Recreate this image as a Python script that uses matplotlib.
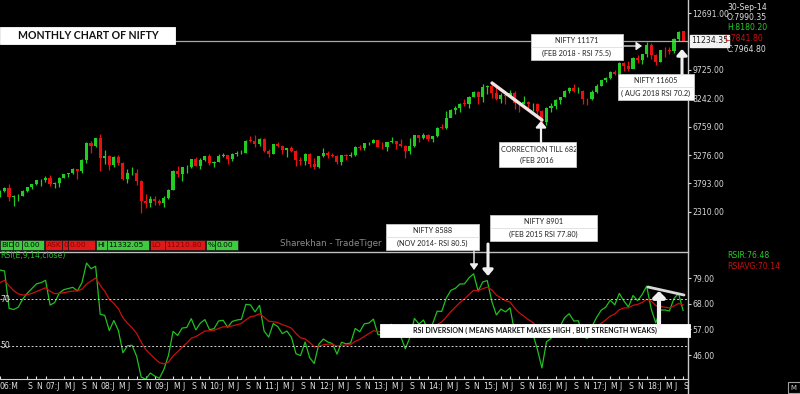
import numpy as np
import matplotlib
matplotlib.use("Agg")
import matplotlib.pyplot as plt
from matplotlib.patches import Rectangle, FancyArrowPatch
from matplotlib.lines import Line2D

# monthly OHLC Mar 2006 .. Sep 2018
opens = [3074,3403,3558,3071,3128,3143,3413,3588,3744,3955,
 3966,4082,3745,3822,4087,4296,4318,4528,4464,5021,5900,5762,
 6139,5137,5224,4735,5165,4870,4040,4333,4360,3921,2885,2755,
 2959,2874,2763,3021,3474,4449,4291,4636,4662,5084,4712,5033,
 5201,4882,4922,5249,5278,5087,5313,5368,5402,6030,6018,5863,
 6135,5506,5333,5834,5749,5560,5647,5482,5001,4943,5327,4832,
 4624,5199,5385,5296,5248,4924,5279,5229,5259,5703,5620,5880,
 5905,6035,5693,5683,5930,5986,5842,5742,5471,5735,6299,6176,
 6304,6090,6277,6704,6696,7230,7611,7721,7990,7965,8322,8588,
 8283,8809,8902,8491,8182,8434,8369,8533,7971,7949,8066,7935,
 7946,7564,6987,7738,7850,8160,8288,8639,8786,8611,8626,8224,
 8186,8561,8880,9174,9304,9621,9521,10077,9918,9789,10335,10227,
 10531,11028,10493,10114,10739,10736,10714,11357,11751]
highs = [3433,3598,3774,3203,3219,3433,3603,3782,3968,4015,
 4167,4245,3875,4103,4306,4335,4620,4545,5055,5977,6011,6185,
 6357,5545,5272,5229,5298,4908,4539,4649,4558,3950,3240,3147,
 3147,2964,3123,3517,4509,4693,4669,4743,5087,5182,5138,5221,
 5311,4952,5329,5399,5279,5366,5478,5549,6073,6284,6338,6147,
 6181,5600,5872,5944,5775,5657,5740,5551,5170,5400,5399,5099,
 5217,5630,5499,5378,5279,5286,5348,5449,5735,5815,5885,5965,
 6111,6053,5971,5962,6229,6011,6093,5808,6142,6309,6343,6415,
 6358,6283,6730,6869,7563,7700,7841,7968,8180,8331,8617,8627,
 8996,8941,9119,8844,8490,8468,8655,8622,8055,8337,8116,7979,
 7972,7600,7777,7992,8213,8309,8675,8819,8968,8806,8669,8274,
 8672,8982,9218,9367,9650,9709,10115,10138,10179,10385,10490,10552,
 11172,11118,10526,10760,10930,10893,11366,11760,11752]
lows = [3060,3325,2896,2595,2878,3118,3323,3505,3696,3657,
 3856,3674,3554,3617,4054,4105,4296,4002,4355,4844,5394,5717,
 4448,4804,4468,4628,4777,3996,3791,4236,3715,2253,2502,2570,
 2661,2677,2539,2965,3468,4143,3919,4354,4576,4687,4538,4943,
 4766,4675,4935,5160,4786,4962,5225,5349,5403,5937,5690,5721,
 5416,5177,5348,5693,5328,5195,5453,4720,4758,4728,4639,4531,
 4588,5159,5135,5154,4789,4770,5033,5164,5215,5549,5548,5823,
 5888,5671,5604,5477,5910,5566,5675,5119,5318,5700,5972,6129,
 6027,5933,6212,6650,6638,7239,7423,7540,7842,7723,8290,7961,
 8065,8470,8269,8145,7998,7940,8316,7667,7540,7930,7714,7552,
 7241,6826,6826,7517,7678,7928,8288,8518,8555,8506,7916,7893,
 8133,8537,8860,9075,9270,9448,9543,9686,9688,9831,10095,10033,
 10405,10277,9952,10111,10418,10551,10605,11235,11211]
closes = [3403,3558,3071,3128,3143,3413,3588,3744,3955,3966,
 4082,3745,3822,4087,4296,4318,4528,4464,5021,5900,5762,6139,
 5137,5224,4735,5165,4870,4040,4333,4360,3921,2885,2755,2959,
 2874,2763,3021,3474,4449,4291,4636,4662,5084,4712,5033,5201,
 4882,4922,5249,5278,5087,5313,5368,5402,6030,6018,5863,6135,
 5506,5333,5834,5749,5560,5647,5482,5001,4943,5327,4832,4624,
 5199,5385,5296,5248,4924,5279,5229,5259,5703,5620,5880,5905,
 6035,5693,5683,5930,5986,5842,5742,5471,5735,6299,6176,6304,
 6090,6277,6704,6696,7230,7611,7721,7954,7965,8322,8588,8283,
 8809,8902,8491,8182,8434,8369,8533,7971,7949,8066,7935,7946,
 7564,6987,7738,7850,8160,8288,8639,8786,8611,8626,8224,8186,
 8561,8880,9174,9304,9621,9521,10077,9918,9789,10335,10227,10531,
 11028,10493,10114,10739,10736,10714,11357,11681,11234]

# RSI(14) per month, Mar 2006 .. Sep 2018
rsi = [82.4,82.0,66.0,65.5,66.5,70.0,72.5,74.5,76.5,77.0,
 78.0,67.4,68.5,72.5,74.0,74.5,75.0,73.5,77.0,85.4,83.0,84.0,
 63.5,63.0,56.5,60.8,56.5,47.0,50.0,50.2,45.5,36.6,35.7,38.3,
 37.0,36.1,39.9,45.9,56.2,54.4,57.6,57.8,61.6,56.8,59.7,61.2,
 56.9,57.3,60.6,60.9,57.9,60.4,61.0,61.3,67.7,67.5,64.5,67.3,
 56.3,53.7,59.5,58.2,55.2,56.3,53.6,46.6,45.8,51.6,44.9,42.4,
 50.6,52.9,51.6,50.9,46.4,51.5,50.8,51.2,57.4,56.0,59.4,59.7,
 61.4,54.8,54.6,58.4,59.2,56.1,54.0,48.7,53.5,61.7,59.3,61.0,
 56.6,59.4,64.8,64.7,70.4,73.7,74.6,76.4,76.5,79.1,80.8,73.4,
 77.3,77.9,69.0,63.2,65.7,64.5,66.2,56.1,55.8,57.3,55.0,55.2,
 48.5,40.5,51.7,53.1,56.8,58.3,62.1,63.7,60.6,60.7,53.8,53.2,
 58.3,62.1,65.2,66.5,69.5,67.5,72.4,69.2,66.6,71.5,69.3,71.9,
 75.5,65.7,59.8,65.3,65.3,64.9,70.2,72.4,65.1]

# RSI average (signal line) per month, Mar 2006 .. Sep 2018
rsi_avg = [77.0,78.0,75.6,73.6,72.2,71.7,71.9,72.4,73.2,74.0,
 74.8,73.3,72.3,72.4,72.7,73.1,73.4,73.5,74.2,76.4,
 77.7,79.0,75.9,73.3,69.9,68.1,65.8,62.0,59.6,57.7,
 55.3,51.6,48.4,46.4,44.5,42.8,42.2,43.0,45.6,47.4,
 49.4,51.1,53.2,53.9,55.1,56.3,56.4,56.6,57.4,58.1,
 58.1,58.5,59.0,59.5,61.1,62.4,62.8,63.7,62.2,60.5,
 60.3,59.9,59.0,58.4,57.5,55.3,53.4,53.0,51.4,49.6,
 49.8,50.4,50.7,50.7,49.8,50.2,50.3,50.5,51.9,52.7,
 54.0,55.2,56.4,56.1,55.8,56.3,56.9,56.7,56.2,54.7,
 54.5,55.9,56.6,57.5,57.3,57.7,59.1,60.2,62.3,64.6,
 66.6,68.5,70.1,71.9,73.7,73.6,74.4,75.1,73.9,71.7,
 70.5,69.3,68.7,66.2,64.1,62.7,61.2,60.0,57.7,54.3,
 53.7,53.6,54.3,55.1,56.5,57.9,58.5,58.9,57.9,56.9,
 57.2,58.2,59.6,61.0,62.7,63.6,65.4,66.2,66.2,67.3,
 67.7,68.5,69.9,69.1,67.2,66.8,66.5,66.2,67.0,68.1,67.5]

price_ticks = [2310, 3793, 5276, 6759, 8242, 9725, 12691]
rsi_ticks = [46, 57, 68, 79]
month_letters = ['J','F','M','A','M','J','J','A','S','O','N','D']

W, H = 800, 394
fig = plt.figure(figsize=(8, 3.94), dpi=100, facecolor='black')
def P(x, y):
    return (x / W, 1 - y / H)

GREEN = '#22cc22'
RED = '#e81010'
n = len(closes)
x = np.arange(n) - 2          # 0 = May 2006
XL = (-1.976, 149.08)

# ---- price pane
ax = fig.add_axes([0, 142/H, 688/W, 252/H], facecolor='black')
for i in range(n):
    col = GREEN if closes[i] >= opens[i] else RED
    ax.vlines(x[i], lows[i], highs[i], color=col, lw=0.9)
    ax.bar(x[i], max(abs(closes[i]-opens[i]), 25), bottom=min(opens[i], closes[i]),
           width=0.68, color=col, lw=0)
ax.set_xlim(*XL); ax.set_ylim(211, 13370)
for s in ax.spines.values():
    s.set_visible(False)
ax.set_xticks([])
ax.yaxis.tick_right()
ax.set_yticks(price_ticks)
ax.set_yticklabels([f'{v:.2f}' for v in price_ticks])
ax.tick_params(axis='y', colors='#d8d8d8', labelsize=5.6, length=2.5, width=0.8, pad=0.8)
ax.axhline(11234.35, color='#a8a8a8', lw=0.9)
ax.text(1.004, 11234.35, '11234.35', transform=ax.get_yaxis_transform(), va='center', ha='left',
        fontsize=5.6, color='#202020',
        bbox=dict(boxstyle='square,pad=0.15', fc='#f2f2f2', ec='#f2f2f2'))

# ---- RSI pane
ax2 = fig.add_axes([0, 15/H, 688/W, 127/H], facecolor='black')
ax2.plot(x, rsi, color='#20c020', lw=0.9)
ax2.plot(x, rsi_avg, color='#c81010', lw=0.9)
ax2.axhline(70, color='#d0d0d0', lw=0.7, ls=(0, (2, 2)))
ax2.axhline(50, color='#d0d0d0', lw=0.7, ls=(0, (2, 2)))
ax2.set_xlim(*XL); ax2.set_ylim(35.77, 90.13)
for k, s in ax2.spines.items():
    s.set_visible(k == 'bottom')
ax2.spines['bottom'].set_color('#d0d0d0')
ax2.yaxis.tick_right()
ax2.set_yticks(rsi_ticks)
ax2.set_yticklabels([f'{v:.2f}' for v in rsi_ticks])
ax2.tick_params(axis='y', colors='#d8d8d8', labelsize=5.6, length=2.5, width=0.8, pad=0.8)
pos, labs = [-2], ['06:M']
for i in range(n):
    m = (2 + i) % 12
    yr = 2006 + (2 + i) // 12
    if i < 5:
        continue
    if m == 0:
        pos.append(x[i]); labs.append(f'{yr % 100:02d}:J')
    elif m in (4, 6, 8, 10):
        pos.append(x[i]); labs.append(month_letters[m])
ax2.set_xticks(pos)
ax2.set_xticklabels(labs, ha='left')
ax2.tick_params(axis='x', colors='#e0e0e0', labelsize=5.6, direction='in', length=2, width=0.8, pad=2.5)
ax2.text(0.001, 70, '70', transform=ax2.get_yaxis_transform(), ha='left', va='center', fontsize=5.6, color='#e0e0e0')
ax2.text(0.001, 50, '50', transform=ax2.get_yaxis_transform(), ha='left', va='center', fontsize=5.6, color='#e0e0e0')

# ---- frame lines
fig.add_artist(Line2D([688/W, 688/W], [0, 1], color='#c8c8c8', lw=1, transform=fig.transFigure))
fig.add_artist(Line2D([0, 688/W], [1-252/H, 1-252/H], color='#c0c0c0', lw=1, transform=fig.transFigure))

def rect(x0, y0, x1, y1, fc='white', ec='#c8c8c8', lw=0.6, z=2):
    r = Rectangle(P(x0, y1), (x1-x0)/W, (y1-y0)/H, transform=fig.transFigure,
                  fc=fc, ec=ec, lw=lw, zorder=z)
    fig.add_artist(r)
    return r

def T(x0, y0, s, **kw):
    kw.setdefault('fontsize', 5.6)
    kw.setdefault('color', '#e0e0e0')
    kw.setdefault('va', 'center')
    return fig.text(*P(x0, y0), s, **kw)

LATO = ['Lato', 'DejaVu Sans']

# title
rect(0, 27, 175, 44, ec='white')
T(88, 35.5, 'MONTHLY CHART OF NIFTY', ha='center', fontsize=7.6, fontweight='bold', color='#111111', family=LATO)

# info at right
T(727, 7, '30-Sep-14')
T(727, 17.5, 'O:7990.35')
T(727, 28, 'H:8180.20', color=GREEN)
T(724, 38.5, 'L:7841.80', color='#c81010')
T(727, 49, 'C:7964.80')
T(727, 256, 'RSIR:76.48', color=GREEN)
T(727, 266.5, 'RSIAVG:70.14', color='#c81010')
rect(788, 382, 800, 393, fc='black', ec='#a0a0a0', lw=0.8)
T(790, 387.5, 'M', fontsize=5, color='#d0d0d0')

# quote strip
cells = [('BID', 0, 13, 'g'), ('0', 13, 22, 'g'), ('0.00', 22, 44, 'g'), ('ASK', 45, 62, 'r'),
         ('0', 62, 68, 'r'), ('0.00', 68, 95, 'r'), ('HI', 96, 107, 'g'), ('11332.05', 107, 149, 'g'),
         ('LO', 150, 165, 'r'), ('11210.80', 165, 205, 'r'), ('%', 206, 215, 'g'), ('0.00', 215, 238, 'g')]
for s, a, b, k in cells:
    fc = '#3ccc3c' if k == 'g' else '#e01818'
    rect(a, 240, b, 250, fc=fc, ec='#1a1a1a', lw=0.5)
    T(a + 1.5, 245.3, s, fontsize=5.4, color='#0a0a0a' if k == 'g' else '#8a0000', zorder=3)
T(0, 255.5, 'RSI(E,9,14,close)', fontsize=5.6, color='#20c020')
T(280, 243, 'Sharekhan - TradeTiger', fontsize=6.3, color='#8c8c8c')

# annotation boxes
def box2(x0, y0, x1, y1, l1, l2, ysep):
    rect(x0, y0, x1, y1)
    fig.add_artist(Line2D([x0/W, x1/W], [1-ysep/H]*2, color='#d8d8d8', lw=0.5,
                          transform=fig.transFigure, zorder=2.5))
    cx = (x0 + x1) / 2
    T(cx, (y0 + ysep) / 2, l1, ha='center', fontsize=5.2, color='#222222', family=LATO, zorder=3)
    T(cx, (ysep + y1) / 2, l2, ha='center', fontsize=5.2, color='#222222', family=LATO, zorder=3)

box2(531, 34, 623, 60, 'NIFTY 11171', '(FEB 2018 - RSI 75.5)', 47)
box2(618, 74, 694, 100, 'NIFTY 11605', '( AUG 2018 RSI 70.2)', 87)
box2(386, 224, 479, 250, 'NIFTY 8588', '(NOV 2014- RSI 80.5)', 237)
box2(490, 215, 597, 241, 'NIFTY 8901', '(FEB 2015 RSI 77.80)', 228)
r = rect(499, 142, 576, 167)
t = T(501, 149, 'CORRECTION TILL 6826', ha='left', fontsize=5.2, color='#222222', family=LATO, zorder=3)
t.set_clip_path(r)
T(537, 160, '(FEB 2016', ha='center', fontsize=5.2, color='#222222', family=LATO, zorder=3)
rect(380, 324, 690, 337, ec='white')
T(535, 330.5, 'RSI DIVERSION ( MEANS MARKET MAKES HIGH , BUT STRENGTH WEAKS)', ha='center',
  fontsize=5.0, fontweight='bold', color='#111111', family=LATO, zorder=3)

# lines & arrows
def seg(x0, y0, x1, y1, color='#eeeeee', lw=2.2):
    fig.add_artist(Line2D([x0/W, x1/W], [1-y0/H, 1-y1/H], color=color, lw=lw,
                          transform=fig.transFigure, zorder=4, solid_capstyle='round'))

def arrow(x0, y0, x1, y1, lw=1.0, hw=0.25, color='#f0f0f0'):
    fig.add_artist(FancyArrowPatch(
        P(x0, y0), P(x1, y1), transform=fig.transFigure, zorder=4,
        arrowstyle=f'-|>,head_length=0.35,head_width={hw}', color=color, lw=lw,
        mutation_scale=10, shrinkA=0, shrinkB=0))

seg(492, 83, 542, 120, color='#f2e4e4', lw=2.4)
seg(648, 287, 684, 295, color='#d8d8d8', lw=2.0)
arrow(624, 46, 642, 46, lw=0.9)
arrow(682, 75, 682, 49, lw=2.2, hw=0.3)
arrow(541, 143, 541, 121, lw=1.6, hw=0.3)
arrow(474, 251, 474, 270, lw=1.0)
arrow(488, 244, 488, 276, lw=2.2, hw=0.3)
arrow(659, 327, 659, 291, lw=3.0, hw=0.35)

fig.savefig('out.png', dpi=100, facecolor='black')
